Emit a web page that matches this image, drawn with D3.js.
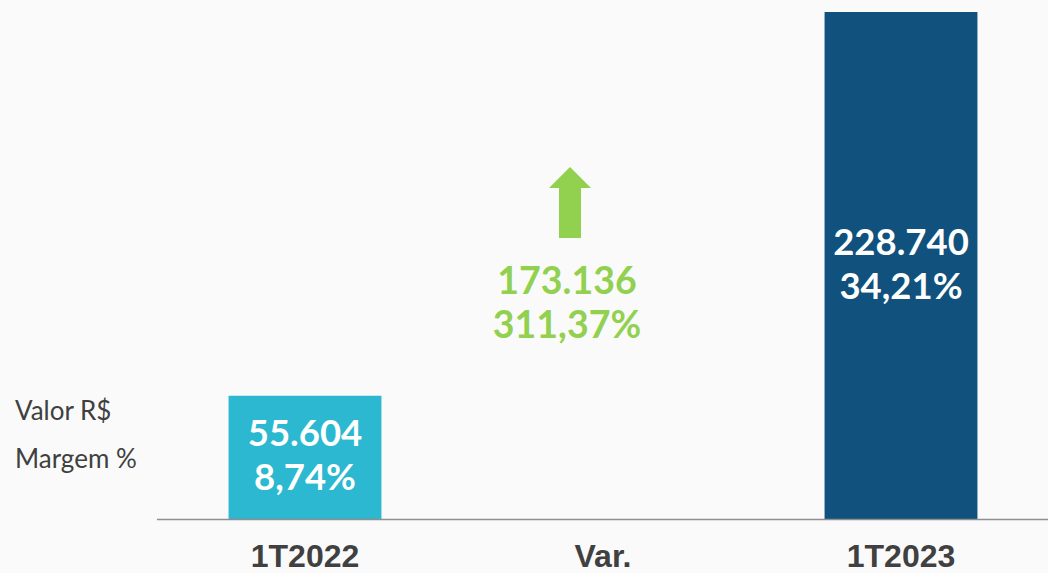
<!DOCTYPE html>
<html>
<head>
<meta charset="utf-8">
<script src="https://cdn.jsdelivr.net/npm/d3@7"></script>
<style>
  html, body { margin: 0; padding: 0; background: #fafafa; }
  svg { display: block; }
</style>
</head>
<body>
<div id="chart"></div>
<script>
// data
var categories = ["1T2022", "Var.", "1T2023"];
var valores = [55604, 173136, 228740];
var valorLabels = ["55.604", "173.136", "228.740"];
var margemLabels = ["8,74%", "311,37%", "34,21%"];
var rowLabels = ["Valor R$", "Margem %"];

var W = 1048, H = 573;
var baseY = 519, topY = 12;

var svg = d3.select("#chart").append("svg")
  .attr("width", W)
  .attr("height", H);

svg.append("rect").attr("width", W).attr("height", H).attr("fill", "#fafafa");

var x = d3.scaleBand()
  .domain(categories)
  .range([156, 1050])
  .paddingInner(0.487)
  .paddingOuter(0.2435);

var y = d3.scaleLinear()
  .domain([0, d3.max(valores)])
  .range([baseY, topY]);

var colors = {"1T2022": "#2bb8d0", "1T2023": "#10517d"};

var data = categories.map(function(c, i){
  return {cat: c, value: valores[i], v: valorLabels[i], m: margemLabels[i]};
});
var bars = data.filter(function(d){ return d.cat != "Var."; });
var variacao = data.filter(function(d){ return d.cat == "Var."; })[0];

// bars
svg.selectAll("rect.bar")
  .data(bars)
  .enter()
  .append("rect")
  .attr("class", "bar")
  .attr("x", function(d){ return x(d.cat); })
  .attr("y", function(d){ return y(d.value); })
  .attr("width", x.bandwidth())
  .attr("height", function(d){ return baseY - y(d.value); })
  .attr("fill", function(d){ return colors[d.cat]; });

// labels inside bars
var lbl = svg.selectAll("g.lbl")
  .data(bars)
  .enter()
  .append("g")
  .attr("class", "lbl")
  .attr("transform", function(d){
    var cy = (y(d.value) + baseY) / 2;
    return "translate(" + (x(d.cat) + x.bandwidth() / 2) + "," + cy + ")";
  });

lbl.append("text")
  .attr("text-anchor", "middle")
  .attr("y", -11)
  .attr("fill", "#fff")
  .style("font", "bold 36.5px Lato")
  .text(function(d){ return d.v; });

lbl.append("text")
  .attr("text-anchor", "middle")
  .attr("y", 33)
  .attr("fill", "#fff")
  .style("font", "bold 36.5px Lato")
  .text(function(d){ return d.m; });

// variation: arrow + green labels
var green = "#92d050";
var vx = x(variacao.cat) + x.bandwidth() / 2 - 33;
var arrow = svg.append("g").attr("transform", "translate(" + vx + ",167)");
arrow.append("path")
  .attr("d", "M0,0 L21,21 L11,21 L11,71 L-11,71 L-11,21 L-21,21 Z")
  .attr("fill", green);

svg.append("text")
  .attr("x", vx - 3)
  .attr("y", 294)
  .attr("text-anchor", "middle")
  .attr("fill", green)
  .style("font", "bold 37.5px Lato")
  .text(variacao.v);

svg.append("text")
  .attr("x", vx - 3)
  .attr("y", 338)
  .attr("text-anchor", "middle")
  .attr("fill", green)
  .style("font", "bold 37.5px Lato")
  .text(variacao.m);

// baseline
svg.append("line")
  .attr("x1", 157).attr("x2", W)
  .attr("y1", baseY + 0.5).attr("y2", baseY + 0.5)
  .attr("stroke", "#8f8f8f")
  .attr("stroke-width", 1.5);

// category axis
var axis = svg.append("g")
  .attr("transform", "translate(0," + baseY + ")")
  .call(d3.axisBottom(x).tickSize(0).tickPadding(0));
axis.select(".domain").remove();
axis.selectAll("text")
  .attr("dy", 0)
  .attr("y", 48)
  .attr("fill", "#404040")
  .style("font", "bold 32px 'Liberation Sans', Arial, sans-serif");

// row labels on the left
svg.selectAll("text.row")
  .data(rowLabels)
  .enter()
  .append("text")
  .attr("class", "row")
  .attr("x", 15)
  .attr("y", function(d, i){ return 420 + i * 48; })
  .attr("fill", "#404040")
  .style("font", "26px Lato")
  .text(function(d){ return d; });
</script>
</body>
</html>
